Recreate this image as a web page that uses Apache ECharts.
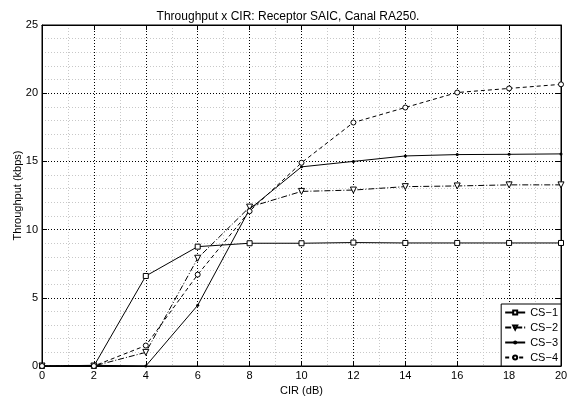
<!DOCTYPE html>
<html>
<head>
<meta charset="utf-8">
<script src="https://cdn.jsdelivr.net/npm/echarts@6/dist/echarts.min.js"></script>
<style>
  html, body { margin: 0; padding: 0; background: #fff; }
  #chart { width: 576px; height: 396px; }
</style>
</head>
<body>
<div id="chart"></div>
<script>
(function() {
    'use strict';

    // CIR values (dB)
    const cir = [0, 2, 4, 6, 8, 10, 12, 14, 16, 18, 20];

    // Throughput (kbps) per scheme
    const cs1 = [0, 0, 6.6, 8.75, 9.0, 9.0, 9.05, 9.02, 9.02, 9.02, 9.02];
    const cs2 = [0, 0, 1.0, 7.9, 11.65, 12.8, 12.9, 13.15, 13.2, 13.28, 13.28];
    const cs3 = [0, 0.05, 0, 4.45, 11.5, 14.6, 15.0, 15.4, 15.5, 15.52, 15.55];
    const cs4 = [0, 0, 1.5, 6.7, 11.35, 14.9, 17.85, 18.95, 20.05, 20.35, 20.65];

    const seriesNames = ['CS\u22121', 'CS\u22122', 'CS\u22123', 'CS\u22124'];
    const xTicks = [0, 2, 4, 6, 8, 10, 12, 14, 16, 18, 20];
    const yTicks = [0, 5, 10, 15, 20, 25];

    const fontFamily = 'Liberation Sans, Arial, sans-serif';

    function pairs(values) {
        return cir.map(function(x, i) { return [x, values[i]]; });
    }

    const majorGrid = { show: true, lineStyle: { color: '#000', type: [1, 2], width: 1 } };
    const minorGrid = { show: true, lineStyle: { color: '#c8c8c8', type: [1, 2], width: 1 } };

    const baseX = {
        type: 'value', min: 0, max: 20, interval: 2,
        axisLine: { onZero: false, lineStyle: { color: '#000', width: 1 } },
        axisTick: { inside: true, length: 5, lineStyle: { color: '#000' } }
    };
    const baseY = {
        type: 'value', min: 0, max: 25, interval: 5,
        axisLine: { onZero: false, lineStyle: { color: '#000', width: 1 } },
        axisTick: { inside: true, length: 5, lineStyle: { color: '#000' } }
    };

    const chart = echarts.init(document.getElementById('chart'));

    const option = {
        backgroundColor: '#fff',
        animation: false,
        title: {
            text: 'Throughput x CIR: Receptor SAIC, Canal RA250.',
            left: 'center', top: 6,
            textStyle: { fontFamily: fontFamily, fontSize: 12, fontWeight: 'normal', color: '#000' }
        },
        grid: {
            left: 42, right: 15, top: 25, bottom: 30,
            outerBoundsMode: 'none', containLabel: false,
            show: true, borderColor: '#000', borderWidth: 1
        },
        xAxis: [
            Object.assign({}, baseX, {
                position: 'bottom',
                name: 'CIR (dB)', nameLocation: 'middle', nameGap: 19,
                nameMoveOverlap: false,
                nameTextStyle: { fontFamily: fontFamily, fontSize: 11, color: '#000' },
                axisLabel: { fontFamily: fontFamily, fontSize: 11, color: '#000', margin: 4,
                    formatter: function(v) { return xTicks.indexOf(v) >= 0 ? String(v) : ''; } },
                splitLine: majorGrid,
                minorSplitLine: minorGrid,
                minorTick: { show: false, splitNumber: 2 }
            }),
            Object.assign({}, baseX, {
                position: 'top',
                axisLabel: { show: false },
                splitLine: { show: false }
            })
        ],
        yAxis: [
            Object.assign({}, baseY, {
                position: 'left',
                name: 'Throughput (kbps)', nameLocation: 'middle', nameGap: 19,
                nameMoveOverlap: false,
                nameTextStyle: { fontFamily: fontFamily, fontSize: 11, color: '#000' },
                axisLabel: { fontFamily: fontFamily, fontSize: 11, color: '#000', margin: 4,
                    formatter: function(v) { return yTicks.indexOf(v) >= 0 ? String(v) : ''; } },
                splitLine: majorGrid,
                minorSplitLine: minorGrid,
                minorTick: { show: false, splitNumber: 5 }
            }),
            Object.assign({}, baseY, {
                position: 'right',
                axisLabel: { show: false },
                splitLine: { show: false }
            })
        ],
        legend: {
            right: 15, bottom: 30,
            orient: 'vertical',
            backgroundColor: '#fff',
            borderColor: '#000', borderWidth: 1, borderRadius: 0,
            padding: [3, 3, 3, 3],
            itemGap: 4,
            itemWidth: 20, itemHeight: 5,
            textStyle: { fontFamily: fontFamily, fontSize: 11, color: '#000' },
            data: seriesNames
        },
        series: [
            {
                name: seriesNames[0], type: 'line', data: pairs(cs1),
                symbol: 'rect', symbolSize: 5, showAllSymbol: true,
                itemStyle: { color: '#fff', borderColor: '#000', borderWidth: 1 },
                lineStyle: { color: '#000', width: 1 }
            },
            {
                name: seriesNames[1], type: 'line', data: pairs(cs2),
                symbol: 'triangle', symbolRotate: 180, symbolSize: 6,
                itemStyle: { color: '#fff', borderColor: '#000', borderWidth: 1 },
                lineStyle: { color: '#000', width: 1, type: [6, 2, 1, 2] }
            },
            {
                name: seriesNames[2], type: 'line', data: pairs(cs3),
                symbol: 'circle', symbolSize: 3,
                itemStyle: { color: '#000', borderColor: '#000', borderWidth: 0 },
                lineStyle: { color: '#000', width: 1 }
            },
            {
                name: seriesNames[3], type: 'line', data: pairs(cs4),
                symbol: 'circle', symbolSize: 5,
                itemStyle: { color: '#fff', borderColor: '#000', borderWidth: 1 },
                lineStyle: { color: '#000', width: 1, type: [4, 3] }
            }
        ]
    };

    chart.setOption(option);
})();
</script>
</body>
</html>
